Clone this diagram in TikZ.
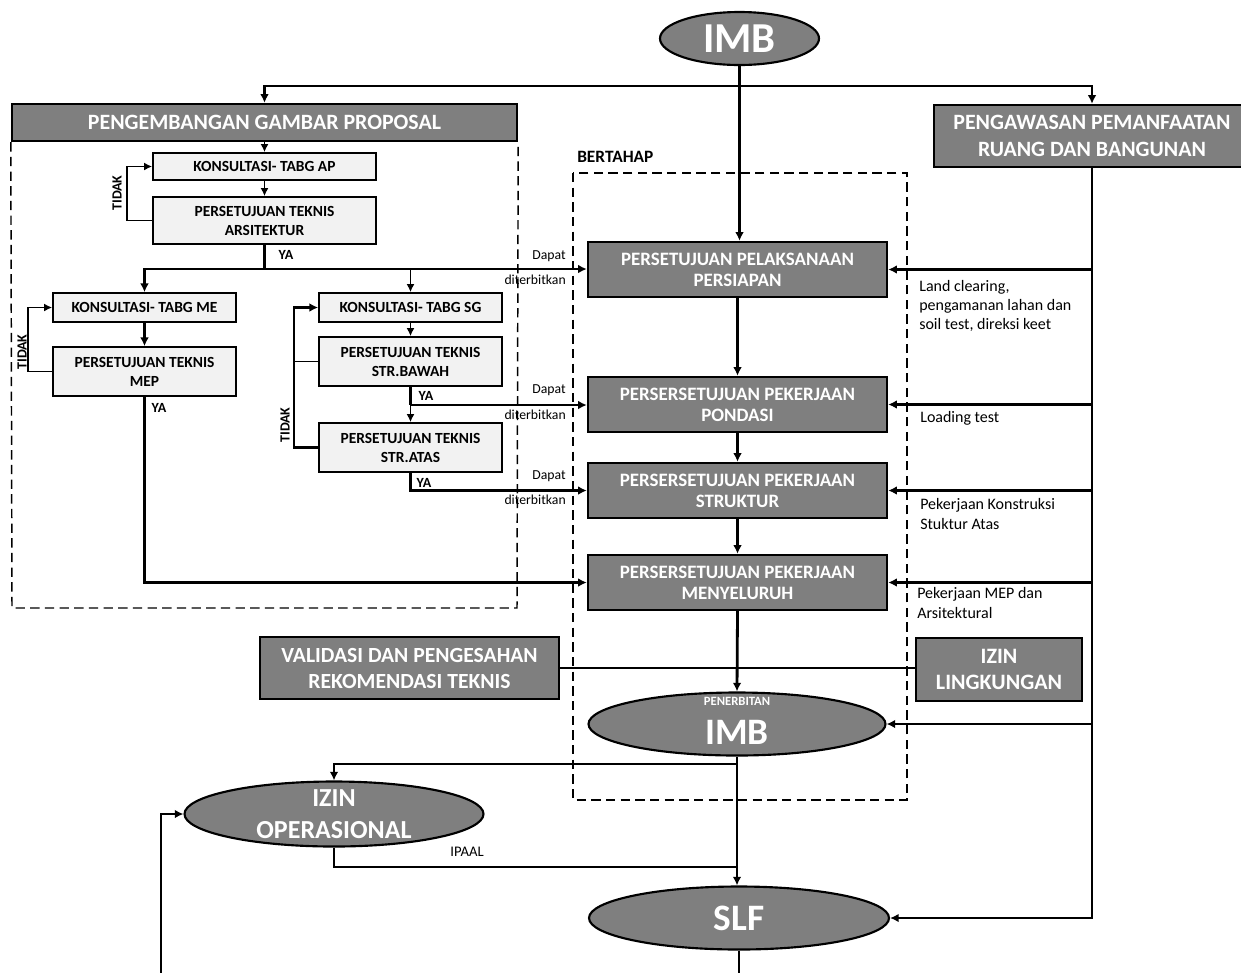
\documentclass[tikz,border=0pt]{standalone}
\usepackage{fontspec}
\setmainfont{Carlito}
\usetikzlibrary{shapes.geometric,arrows.meta}
\definecolor{boxgray}{HTML}{7F7F7F}
\definecolor{boxlight}{HTML}{F2F2F2}
\tikzset{
  corners/.style n args={4}{minimum width={(#3-#1)*0.75pt}, minimum height={(#4-#2)*0.75pt},
    at={({(#1+#3)/2},{(#2+#4)/2})}},
  darkbox/.style={draw=black, line width=1.8pt, fill=boxgray, text=white, align=center, inner sep=0pt,
    font=\bfseries\fontsize{14.2}{15.75}\selectfont},
  lightbox/.style={draw=black, line width=1.3pt, fill=boxlight, align=center, inner sep=0pt,
    font=\bfseries\fontsize{11.6}{14.25}\selectfont},
  ell/.style={ellipse, draw=black, line width=1.6pt, fill=boxgray, inner sep=0pt},
  elltxt/.style={text=white, align=center, inner sep=0pt},
  conn/.style={line width=1.6pt},
  thickconn/.style={line width=2.1pt},
  thinconn/.style={line width=1.2pt},
  arr/.style={conn, -{Latex[length=6.5pt,width=6.5pt]}},
  thickarr/.style={thickconn, -{Latex[length=6.5pt,width=6.5pt]}},
  thinarr/.style={thinconn, -{Latex[length=6pt,width=6pt]}},
  dashbox/.style={line width=1.1pt, dash pattern=on 7pt off 4pt},
  sidelbl/.style={font=\fontsize{12}{14.5}\selectfont, align=left, anchor=west, inner sep=0pt},
  smalllbl/.style={font=\fontsize{10.3}{12}\selectfont, anchor=east, inner sep=0pt},
  yalbl/.style={font=\bfseries\fontsize{10.5}{12}\selectfont, inner sep=0pt},
}
\begin{document}
\begin{tikzpicture}[x=0.75pt,y=-0.75pt]
\useasboundingbox (0,0) rectangle (1241,972);

% ---------- top IMB ----------
\node[ell, minimum width=119.25pt, minimum height=39.75pt,
  label={[elltxt, font=\bfseries\fontsize{32}{34}\selectfont]center:IMB}] (imbtop) at (739.5,38.5) {};
\coordinate (jt) at (739.5,86);

% ---------- headers ----------
\node[darkbox, font=\bfseries\fontsize{16.4}{18}\selectfont, corners={12}{104}{517}{141}] (pgp) {PENGEMBANGAN GAMBAR PROPOSAL};
\node[darkbox, font=\bfseries\fontsize{16.4}{20}\selectfont, corners={934}{105}{1250}{167}] (pgw) {PENGAWASAN PEMANFAATAN\\RUANG DAN BANGUNAN};

% ---------- left group ----------
\draw[dashbox] (pgp.south west) -- (12,608) -- (517,608) -- (pgp.south east);
\node[lightbox, corners={153}{153}{376}{180}] (kap) {KONSULTASI- TABG AP};
\node[lightbox, corners={153}{197}{376}{244}] (pta) {PERSETUJUAN TEKNIS\\ARSITEKTUR};
\node[lightbox, corners={53}{293}{236}{322}] (kme) {KONSULTASI- TABG ME};
\node[lightbox, corners={53}{347}{236}{396}] (pmep) {PERSETUJUAN TEKNIS\\MEP};
\node[lightbox, corners={319}{293}{502}{322}] (ksg) {KONSULTASI- TABG SG};
\node[lightbox, corners={319}{337}{502}{386}] (pbawah) {PERSETUJUAN TEKNIS\\STR.BAWAH};
\node[lightbox, corners={319}{423}{502}{472}] (patas) {PERSETUJUAN TEKNIS\\STR.ATAS};

% ---------- BERTAHAP group ----------
\node[font=\bfseries\fontsize{13}{15}\selectfont, anchor=west, inner sep=0pt] (bert) at (577,157) {BERTAHAP};
\draw[dashbox] (573,173) rectangle (907,800);
\node[darkbox, corners={588}{242}{887}{297}] (pps) {PERSETUJUAN PELAKSANAAN\\PERSIAPAN};
\node[darkbox, corners={588}{377}{887}{432}] (ppo) {PERSERSETUJUAN PEKERJAAN\\PONDASI};
\node[darkbox, corners={588}{463}{887}{518}] (pst) {PERSERSETUJUAN PEKERJAAN\\STRUKTUR};
\node[darkbox, corners={588}{555}{887}{610}] (pmy) {PERSERSETUJUAN PEKERJAAN\\MENYELURUH};

\node[darkbox, font=\bfseries\fontsize{16.2}{19.5}\selectfont, corners={260}{637}{559}{699}] (val) {VALIDASI DAN PENGESAHAN\\REKOMENDASI TEKNIS};
\node[darkbox, font=\bfseries\fontsize{16.5}{19.5}\selectfont, corners={916}{638}{1082}{701}] (izl) {IZIN\\LINGKUNGAN};

\node[ell, minimum width=222.75pt, minimum height=47.25pt,
  label={[elltxt, font=\bfseries\fontsize{9.5}{11}\selectfont, yshift=17pt]center:PENERBITAN},
  label={[elltxt, font=\bfseries\fontsize{28}{30}\selectfont, yshift=-6pt]center:IMB}] (imb2) at (737,724) {};
\node[ell, minimum width=224.25pt, minimum height=48.75pt,
  label={[elltxt, font=\bfseries\fontsize{19.5}{24}\selectfont]center:IZIN\\OPERASIONAL}] (izo) at (334,814) {};
\node[ell, minimum width=225pt, minimum height=47.25pt,
  label={[elltxt, font=\bfseries\fontsize{28}{30}\selectfont]center:SLF}] (slf) at (739,918) {};

% ---------- connectors: top ----------
\draw[conn] (imbtop.south) -- (jt);
\draw[arr] (jt) -| (pgp.north);
\draw[arr] (jt) -| (pgw.north);
\draw[thickarr] (jt) -- (jt |- pps.north);

% ---------- connectors: left group ----------
\draw[thinarr] (pgp.south) -- (kap.north);
\draw[thinarr] (kap.south) -- (pta.north);
\draw[thinarr] (pta.west) -- ++(-25,0) |- (kap.west);
\node[yalbl, rotate=90] (t1) at (117,193) {TIDAK};
\coordinate (jya) at (264.5,269);
\draw[thickconn] (pta.south) -- (jya);
\node[yalbl] (ya1) at (286,255) {YA};
\draw[thickarr] (jya) -| (kme.north);
\draw[thickarr] (jya) -- (jya -| pps.west);
\draw[thinarr] (ksg.north |- jya) -- (ksg.north);

\draw[thickarr] (kme.south) -- (pmep.north);
\draw[thinarr] (pmep.west) -- ++(-24,0) |- (kme.west);
\node[yalbl, rotate=90] (t2) at (22,352) {TIDAK};
\draw[thickarr] (pmep.south) |- (pmy.west);
\node[yalbl] (ya2) at (159,408) {YA};

\draw[thinarr] (ksg.south) -- (pbawah.north);
\draw[thinarr] (pbawah.south) -- (patas.north);
\coordinate (jb) at (410.5,405);
\draw[thickconn] (pbawah.south) -- (jb);
\draw[thickarr] (jb) -- (jb -| ppo.west);
\node[yalbl] (ya3) at (426,396) {YA};
\coordinate (tsg) at (294,300);
\draw[thickarr] (patas.west) -- (patas.west -| tsg) |- (ksg.west);
\draw[thinconn] (pbawah.west) -- (pbawah.west -| tsg);
\node[yalbl, rotate=90] (t3) at (285,425) {TIDAK};
\draw[thickarr] (patas.south) |- (pst.west);
\node[yalbl] (ya4) at (424,483) {YA};

% Dapat / diterbitkan
\node[smalllbl] (d1a) at (566,256) {Dapat};
\node[smalllbl] (d1b) at (566,280) {diterbitkan};
\node[smalllbl] (d2a) at (566,390) {Dapat};
\node[smalllbl] (d2b) at (566,415) {diterbitkan};
\node[smalllbl] (d3a) at (566,476) {Dapat};
\node[smalllbl] (d3b) at (566,500) {diterbitkan};

% ---------- main column ----------
\draw[thickarr] (pps.south) -- (ppo.north);
\draw[thickarr] (ppo.south) -- (pst.north);
\draw[thickarr] (pst.south) -- (pmy.north);
\draw[thickarr] (pmy.south) -- (imb2.north);
\draw[conn] (val.east) -- (val.east -| izl.west);

\coordinate (j1) at (737,764);
\draw[arr] (imb2.south) -- (imb2.south |- slf.north);
\draw[arr] (j1) -| (izo.north);
\draw[conn] (izo.south) |- (737,867);
\node[font=\fontsize{11}{13}\selectfont, inner sep=0pt] (ipaal) at (467,852) {IPAAL};
\coordinate (sb) at (739,975);
\draw[conn] (slf.south) -- (sb);
\coordinate (lb) at (161,975);
\draw[arr] (lb) |- (izo.west);

% ---------- right column ----------
\draw[arr] (pgw.south) |- (slf.east);
\foreach \n in {pps,ppo,pst,pmy,imb2}{
  \draw[arr] (pgw.south |- \n.east) -- (\n.east);
}
\node[sidelbl] (l1) at (919,306) {Land clearing,\\pengamanan lahan dan\\soil test, direksi keet};
\node[sidelbl] (l2) at (920,418) {Loading test};
\node[sidelbl] (l3) at (920,514) {Pekerjaan Konstruksi\\Stuktur Atas};
\node[sidelbl] (l4) at (917,603) {Pekerjaan MEP dan\\Arsitektural};
\end{tikzpicture}
\end{document}
